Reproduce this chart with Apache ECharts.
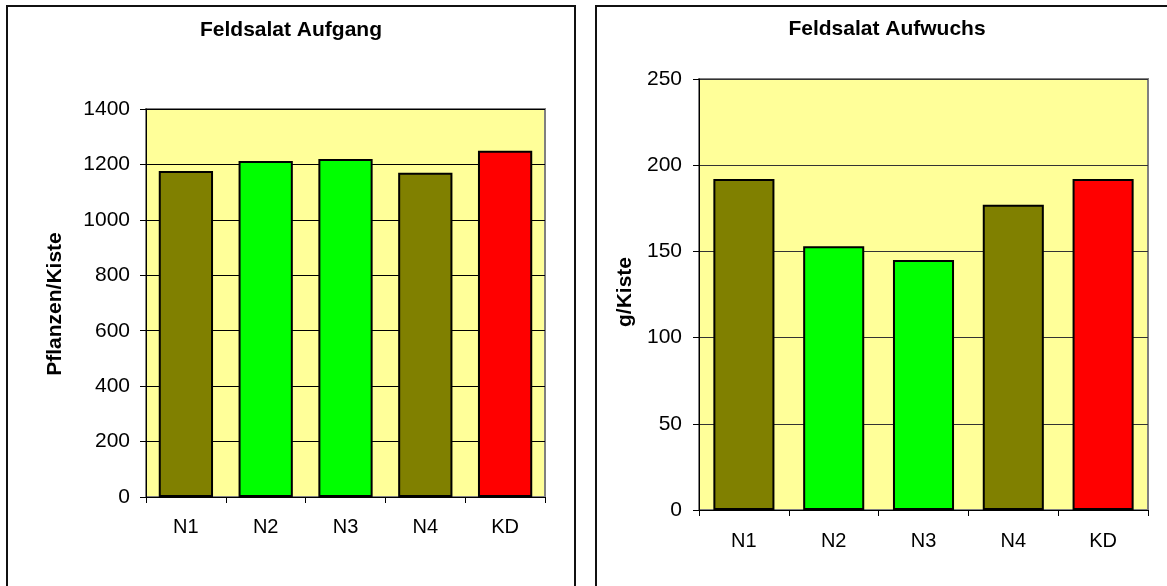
<!DOCTYPE html>
<html>
<head>
<meta charset="utf-8">
<script src="https://cdn.jsdelivr.net/npm/echarts@6/dist/echarts.min.js"></script>
<style>
html,body{margin:0;padding:0;background:#fff;}
#c{width:1167px;height:586px;}
</style>
</head>
<body>
<div id="c"></div>
<script>
const categories = ['N1', 'N2', 'N3', 'N4', 'KD'];
const aufgangValues = [1176, 1212, 1220, 1170, 1249];
const aufwuchsValues = [192, 153, 145, 177, 192];
const barColors = ['#808000', '#00FF00', '#00FF00', '#808000', '#FF0000'];
const titleLeft = 'Feldsalat Aufgang';
const titleRight = 'Feldsalat Aufwuchs';
const yNameLeft = 'Pflanzen/Kiste';
const yNameRight = 'g/Kiste';

const FONT = '"Liberation Sans", Arial, sans-serif';

function barData(vals) {
  return vals.map((v, i) => ({ value: v, itemStyle: { color: barColors[i] } }));
}

const chart = echarts.init(document.getElementById('c'), null, { renderer: 'canvas' });

function xAxisDef(gi, margin) {
  return {
    type: 'category', gridIndex: gi, data: categories,
    axisLine: { show: true, lineStyle: { color: '#000', width: 1 } },
    axisTick: { show: true, length: 6, alignWithLabel: false, lineStyle: { color: '#000' } },
    axisLabel: { color: '#000', fontSize: 20, fontFamily: FONT, margin: margin },
    splitLine: { show: false }
  };
}
function yAxisDef(gi, max, interval, margin, gridColor) {
  return {
    type: 'value', gridIndex: gi, min: 0, max: max, interval: interval,
    axisLine: { show: true, lineStyle: { color: '#000', width: 1 } },
    axisTick: { show: true, length: 6, lineStyle: { color: '#000' } },
    axisLabel: { color: '#000', fontSize: 21, fontFamily: FONT, margin: margin, formatter: v => String(v) },
    splitLine: { show: true, lineStyle: { color: gridColor, width: 1 } }
  };
}

chart.setOption({
  animation: false,
  backgroundColor: '#fff',
  grid: [
    { left: 146, top: 109, width: 399, height: 388, show: true, backgroundColor: '#FFFF99', borderColor: '#808080', borderWidth: 2 },
    { left: 699, top: 79, width: 449, height: 431, show: true, backgroundColor: '#FFFF99', borderColor: '#808080', borderWidth: 2 }
  ],
  xAxis: [xAxisDef(0, 20), xAxisDef(1, 21)],
  yAxis: [yAxisDef(0, 1400, 200, 16, '#000'), yAxisDef(1, 250, 50, 17, '#333')],
  series: [
    { type: 'bar', xAxisIndex: 0, yAxisIndex: 0, data: barData(aufgangValues), barCategoryGap: '32%',
      itemStyle: { borderColor: '#000', borderWidth: 2 } },
    { type: 'bar', xAxisIndex: 1, yAxisIndex: 1, data: barData(aufwuchsValues), barCategoryGap: '32%',
      itemStyle: { borderColor: '#000', borderWidth: 2 } }
  ],
  graphic: [
    { type: 'rect', shape: { x: 7, y: 6, width: 568, height: 600 }, style: { fill: 'none', stroke: '#111', lineWidth: 2 }, z: -10 },
    { type: 'rect', shape: { x: 596, y: 6, width: 600, height: 600 }, style: { fill: 'none', stroke: '#111', lineWidth: 2 }, z: -10 },
    { type: 'text', x: 291, y: 30, style: { text: titleLeft, font: 'bold 21px ' + FONT, fill: '#000', align: 'center', verticalAlign: 'middle' } },
    { type: 'text', x: 887, y: 29, style: { text: titleRight, font: 'bold 21px ' + FONT, fill: '#000', align: 'center', verticalAlign: 'middle' } },
    { type: 'text', x: 55, y: 304, rotation: Math.PI / 2, style: { text: yNameLeft, font: 'bold 21px ' + FONT, fill: '#000', align: 'center', verticalAlign: 'middle' } },
    { type: 'text', x: 625, y: 292, rotation: Math.PI / 2, style: { text: yNameRight, font: 'bold 21px ' + FONT, fill: '#000', align: 'center', verticalAlign: 'middle' } }
  ]
});
</script>
</body>
</html>
